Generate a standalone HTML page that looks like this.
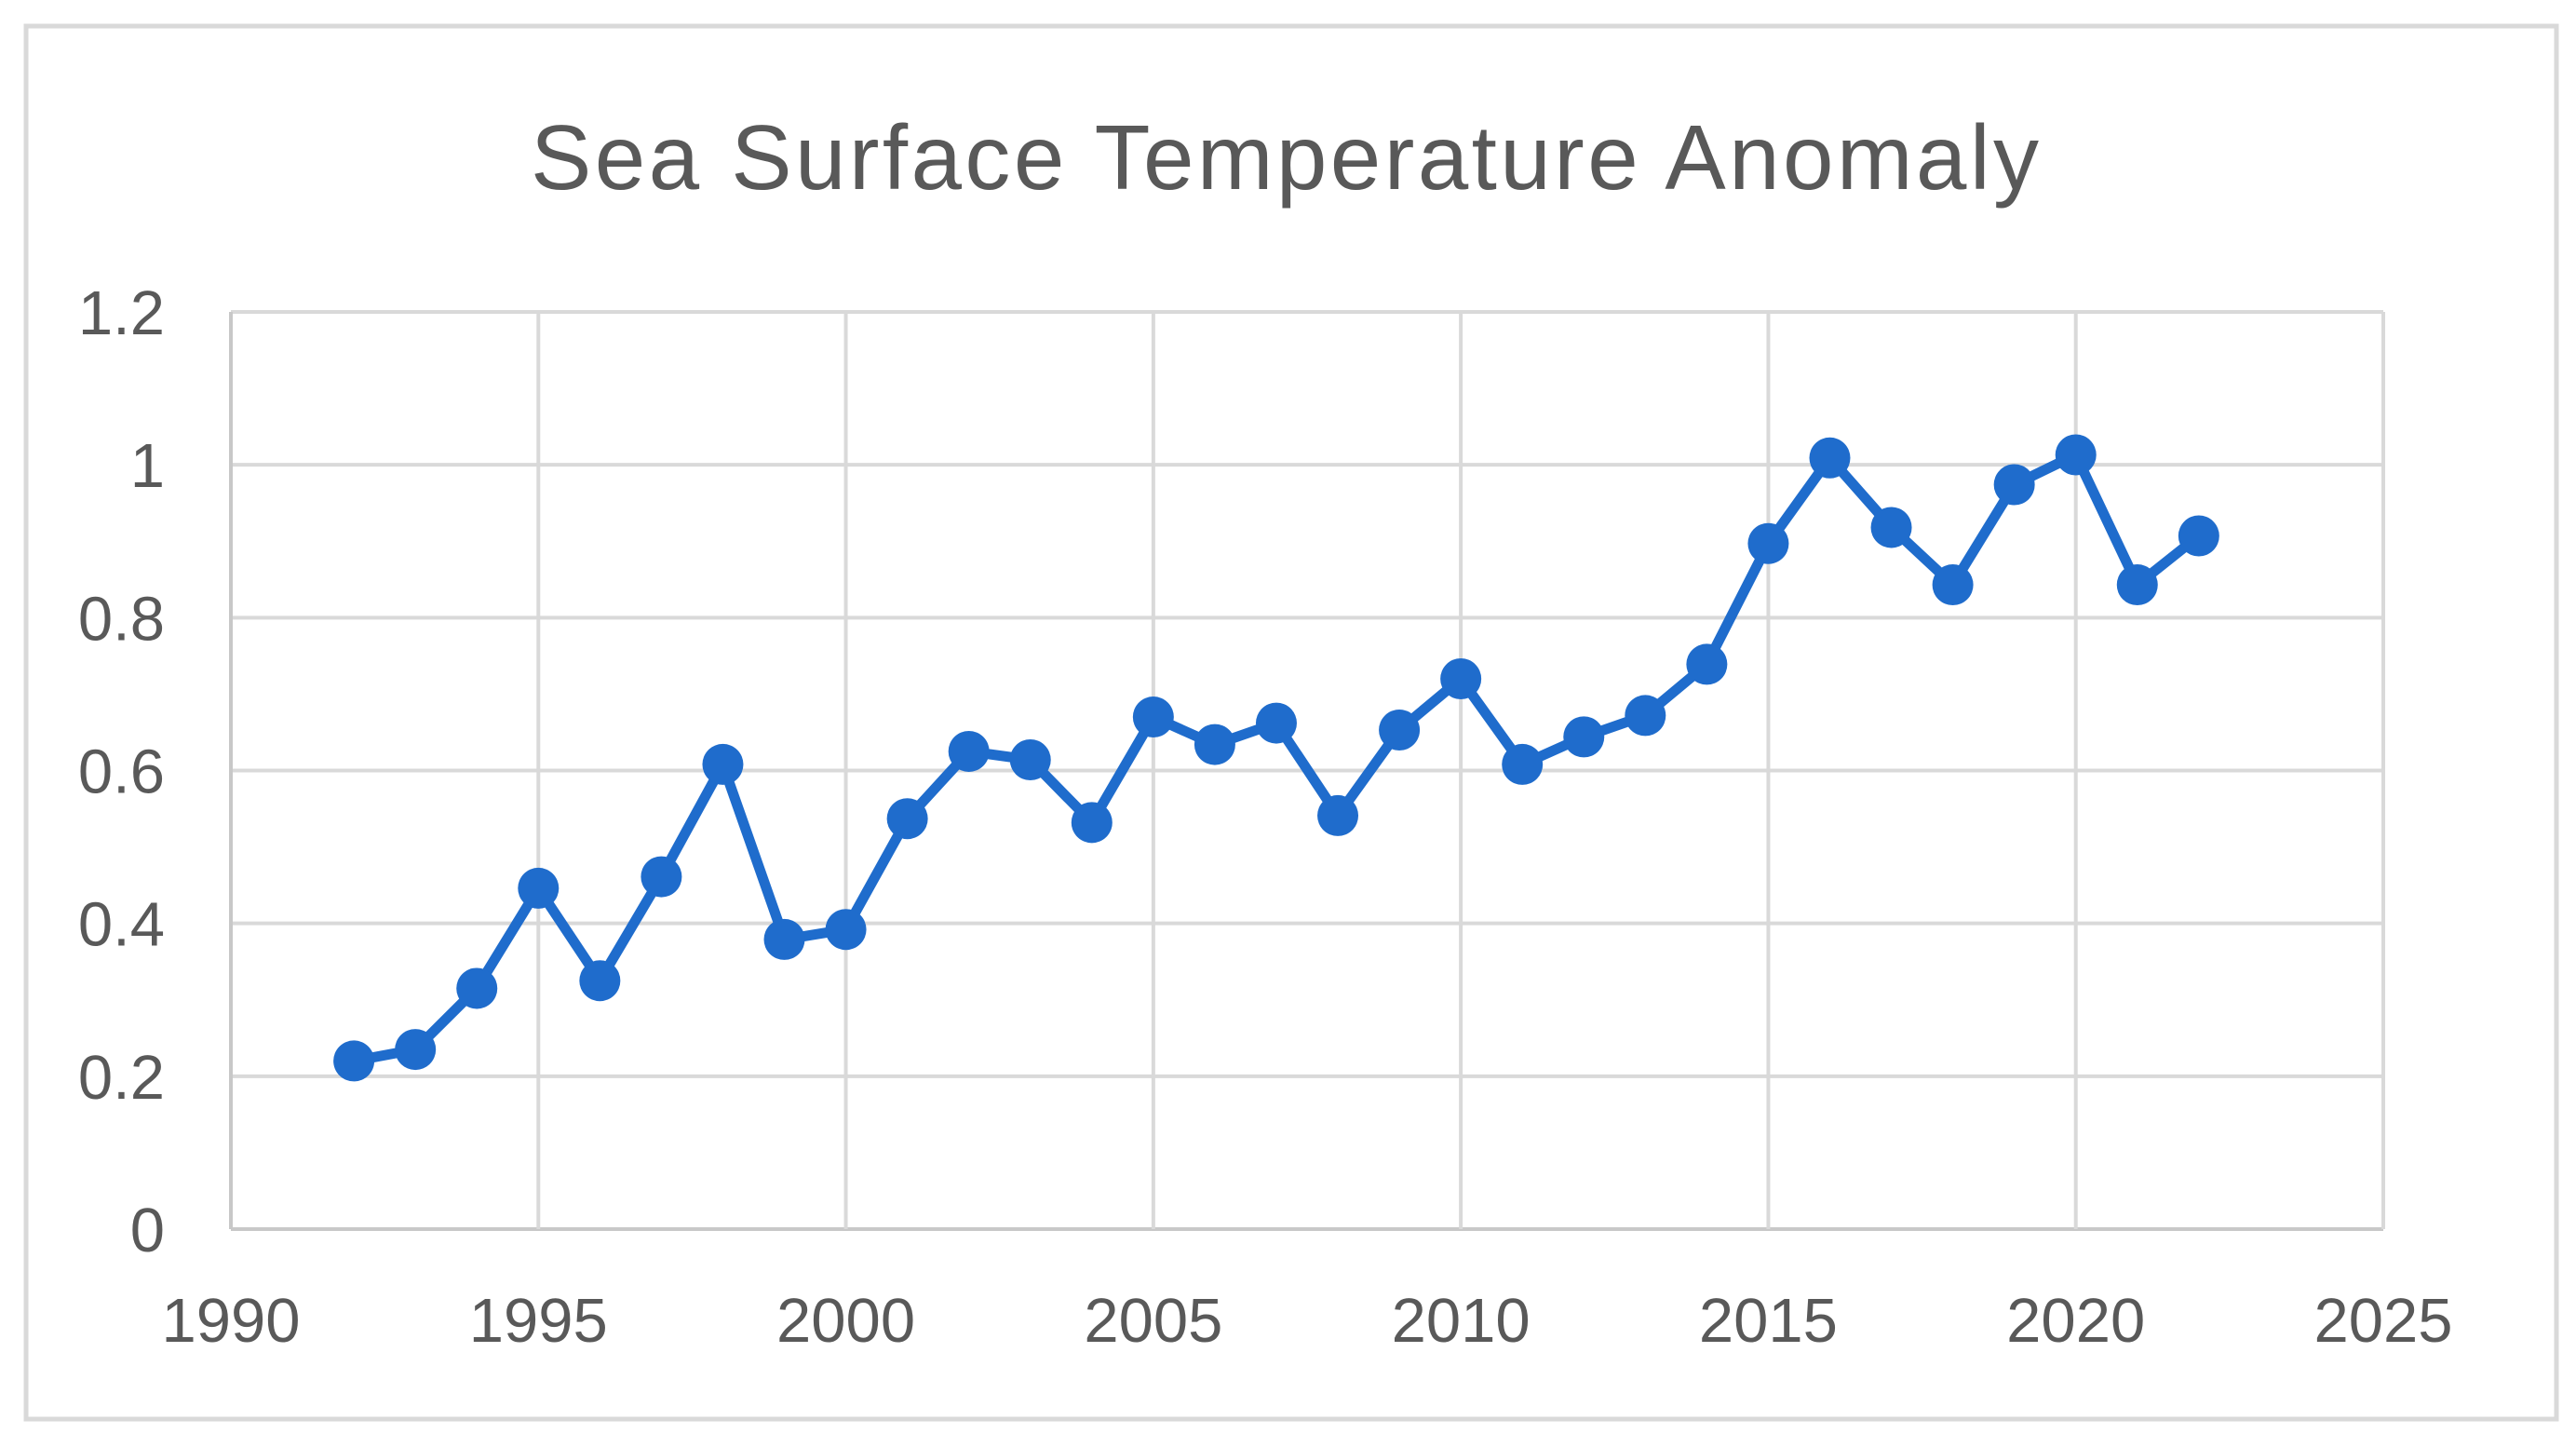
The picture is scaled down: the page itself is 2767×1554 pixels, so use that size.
<!DOCTYPE html>
<html><head><meta charset="utf-8"><style>
html,body{margin:0;padding:0;background:#fff;}
svg{display:block;font-family:"Liberation Sans",sans-serif;}
</style></head><body>
<svg id="chart" width="2767" height="1554" viewBox="0 0 2767 1554">
<rect x="28" y="28" width="2718" height="1496" fill="#fff" stroke="#d9d9d9" stroke-width="5"/>
<text x="1380" y="203" text-anchor="middle" font-size="98" fill="#595959" textLength="1620" lengthAdjust="spacing">Sea Surface Temperature Anomaly</text>
<g id="grid"></g><g id="series"></g><g id="labels"></g>
</svg>
<script>
const years = [1992,1993,1994,1995,1996,1997,1998,1999,2000,2001,2002,2003,2004,2005,2006,2007,2008,2009,2010,2011,2012,2013,2014,2015,2016,2017,2018,2019,2020,2021,2022];
const anomaly = [0.22,0.235,0.315,0.446,0.325,0.461,0.608,0.379,0.392,0.537,0.625,0.614,0.532,0.670,0.634,0.662,0.541,0.653,0.720,0.608,0.644,0.672,0.739,0.897,1.009,0.918,0.843,0.974,1.013,0.843,0.907];
const xTicks = [1990,1995,2000,2005,2010,2015,2020,2025];
const yTicks = [0,0.2,0.4,0.6,0.8,1,1.2];
const yTickLabels = ["0","0.2","0.4","0.6","0.8","1","1.2"];

const L=248,R=2560,T=335,B=1320;
const xs=v=>L+(v-1990)/(2025-1990)*(R-L);
const ys=v=>B-v/1.2*(B-T);
const NS="http://www.w3.org/2000/svg";
function mk(tag,parent){const e=document.createElementNS(NS,tag);parent.appendChild(e);return e;}
const grid=document.getElementById('grid'),series=document.getElementById('series'),labels=document.getElementById('labels');

yTicks.forEach((t,i)=>{
  const l=mk('line',grid);
  l.setAttribute('x1',L);l.setAttribute('x2',R);l.setAttribute('y1',ys(t));l.setAttribute('y2',ys(t));
  l.setAttribute('stroke',t===0?'#c8c8c8':'#d9d9d9');l.setAttribute('stroke-width',4);
  
  
  const tx=mk('text',labels);
  tx.setAttribute('x',177);tx.setAttribute('y',ys(t)+24);tx.setAttribute('text-anchor','end');
  tx.setAttribute('font-size',67);tx.setAttribute('fill','#595959');tx.textContent=yTickLabels[i];
  
  
});
xTicks.forEach(t=>{
  const l=mk('line',grid);
  l.setAttribute('x1',xs(t));l.setAttribute('x2',xs(t));l.setAttribute('y1',T);l.setAttribute('y2',B);
  l.setAttribute('stroke',t===1990?'#c8c8c8':'#d9d9d9');l.setAttribute('stroke-width',4);
  
  
  const tx=mk('text',labels);
  tx.setAttribute('x',xs(t));tx.setAttribute('y',1441);tx.setAttribute('text-anchor','middle');
  tx.setAttribute('font-size',67);tx.setAttribute('fill','#595959');tx.textContent=t;
  
  
});
const pl=mk('polyline',series);
pl.setAttribute('points',years.map((y,i)=>xs(y)+','+ys(anomaly[i])).join(' '));
pl.setAttribute('fill','none');pl.setAttribute('stroke','#1f6ccc');pl.setAttribute('stroke-width',11);pl.setAttribute('stroke-linejoin','round');


years.forEach((y,i)=>{
  const c=mk('circle',series);
  c.setAttribute('cx',xs(y));c.setAttribute('cy',ys(anomaly[i]));c.setAttribute('r',22);c.setAttribute('fill','#1f6ccc');
  
  
});
</script>
</body></html>
